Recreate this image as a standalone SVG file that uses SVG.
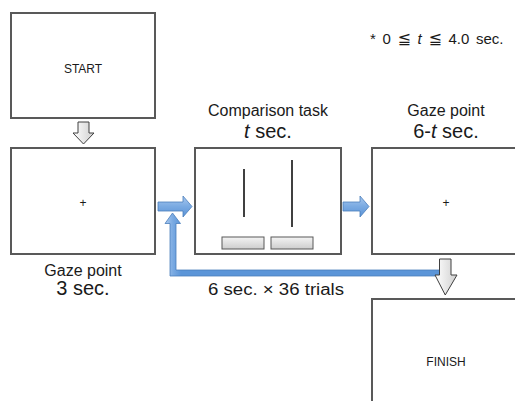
<svg xmlns="http://www.w3.org/2000/svg" width="515" height="401" viewBox="0 0 515 401">
  <defs>
    <linearGradient id="blueFill" x1="0" y1="0" x2="0" y2="1">
      <stop offset="0" stop-color="#a9c8ee"/>
      <stop offset="0.5" stop-color="#7aaae2"/>
      <stop offset="1" stop-color="#5b93d6"/>
    </linearGradient>
    <linearGradient id="loopFill" gradientUnits="userSpaceOnUse" x1="165" y1="0" x2="181" y2="0">
      <stop offset="0" stop-color="#a9c8ee"/>
      <stop offset="0.5" stop-color="#7aaae2"/>
      <stop offset="1" stop-color="#5b95d8"/>
    </linearGradient>
    <linearGradient id="grayArrow" x1="0" y1="0" x2="1" y2="0">
      <stop offset="0" stop-color="#ffffff"/>
      <stop offset="1" stop-color="#cfcfcf"/>
    </linearGradient>
    <linearGradient id="barFill" x1="0" y1="0" x2="0" y2="1">
      <stop offset="0" stop-color="#f4f4f4"/>
      <stop offset="1" stop-color="#cdcdcd"/>
    </linearGradient>
  </defs>
  <style>
    .box { fill: #ffffff; stroke: #595959; stroke-width: 2; }
    .txt { font-family: "Liberation Sans", Arial, sans-serif; fill: #1a1a1a; text-anchor: middle; }
    .small { font-size: 12px; }
    .cap { font-size: 16px; }
    .big { font-size: 20px; }
    .note { font-size: 15px; text-anchor: start; word-spacing: 2.5px; }
    .rel { font-family: "DejaVu Sans", sans-serif; font-size: 16px; }
    .blue { fill: url(#blueFill); stroke: #4a7ebb; stroke-width: 0.8; }
    .loop { fill: url(#loopFill); stroke: #4a7ebb; stroke-width: 0.8; }
    .gray { fill: url(#grayArrow); stroke: #404040; stroke-width: 1; }
    .bar { fill: url(#barFill); stroke: #595959; stroke-width: 1; }
    .stim { stroke: #404040; stroke-width: 2; }
  </style>

  <!-- start screen -->
  <g id="start">
    <rect class="box" x="11" y="13" width="144" height="105"/>
    <text class="txt small" x="83" y="73">START</text>
  </g>

  <!-- first fixation screen -->
  <g id="gaze1">
    <rect class="box" x="11" y="148" width="144" height="106"/>
    <text class="txt small" x="83" y="207">+</text>
    <text class="txt cap" x="83" y="276">Gaze point</text>
    <text class="txt big" x="83" y="295">3 sec.</text>
  </g>

  <!-- comparison screen with two lines and two response bars -->
  <g id="comparison">
    <rect class="box" x="195" y="148" width="146" height="106"/>
    <line class="stim" x1="244" y1="169" x2="244" y2="217"/>
    <line class="stim" x1="292" y1="160" x2="292" y2="227"/>
    <rect class="bar" x="222" y="237" width="42" height="12"/>
    <rect class="bar" x="271" y="237" width="42" height="12"/>
    <text class="txt cap" x="268" y="116">Comparison task</text>
    <text class="txt big" x="268" y="138"><tspan font-style="italic">t</tspan> sec.</text>
  </g>

  <!-- second fixation screen -->
  <g id="gaze2">
    <rect class="box" x="372" y="148" width="146" height="106"/>
    <text class="txt small" x="446" y="207">+</text>
    <text class="txt cap" x="446" y="116">Gaze point</text>
    <text class="txt big" x="446" y="138">6-<tspan font-style="italic">t</tspan> sec.</text>
  </g>

  <!-- finish screen -->
  <g id="finish">
    <rect class="box" x="372" y="299" width="146" height="110"/>
    <text class="txt small" x="446" y="366">FINISH</text>
  </g>

  <!-- note on the range of t -->
  <g id="note">
    <text class="txt note" x="370" y="44">* 0 <tspan class="rel">≦</tspan> <tspan font-style="italic">t</tspan> <tspan class="rel">≦</tspan> 4.0 sec.</text>
  </g>

  <!-- connectors -->
  <g id="connectors">
    <!-- start to first fixation -->
    <polygon class="gray" points="78,122 89,122 89,133 94,133 83.5,144 73,133 78,133"/>
    <!-- first fixation to comparison -->
    <polygon class="blue" points="158,202 183,202 183,196 192,206.5 183,217 183,211 158,211"/>
    <!-- comparison to second fixation -->
    <polygon class="blue" points="343,202 360,202 360,196 369,206.5 360,217 360,211 343,211"/>
    <!-- loop back for the next trial -->
    <polygon class="loop" points="172.5,213 180.5,223.5 176,223.5 176,270 440,270 440,276 170,276 170,223.5 165,223.5"/>
    <text class="txt cap" x="276" y="295" textLength="136" lengthAdjust="spacingAndGlyphs">6 sec. × 36 trials</text>
    <!-- second fixation to finish -->
    <polygon class="gray" points="439.5,259 451,259 451,275 457,275 445.25,295 435,275 439.5,275"/>
  </g>
</svg>
